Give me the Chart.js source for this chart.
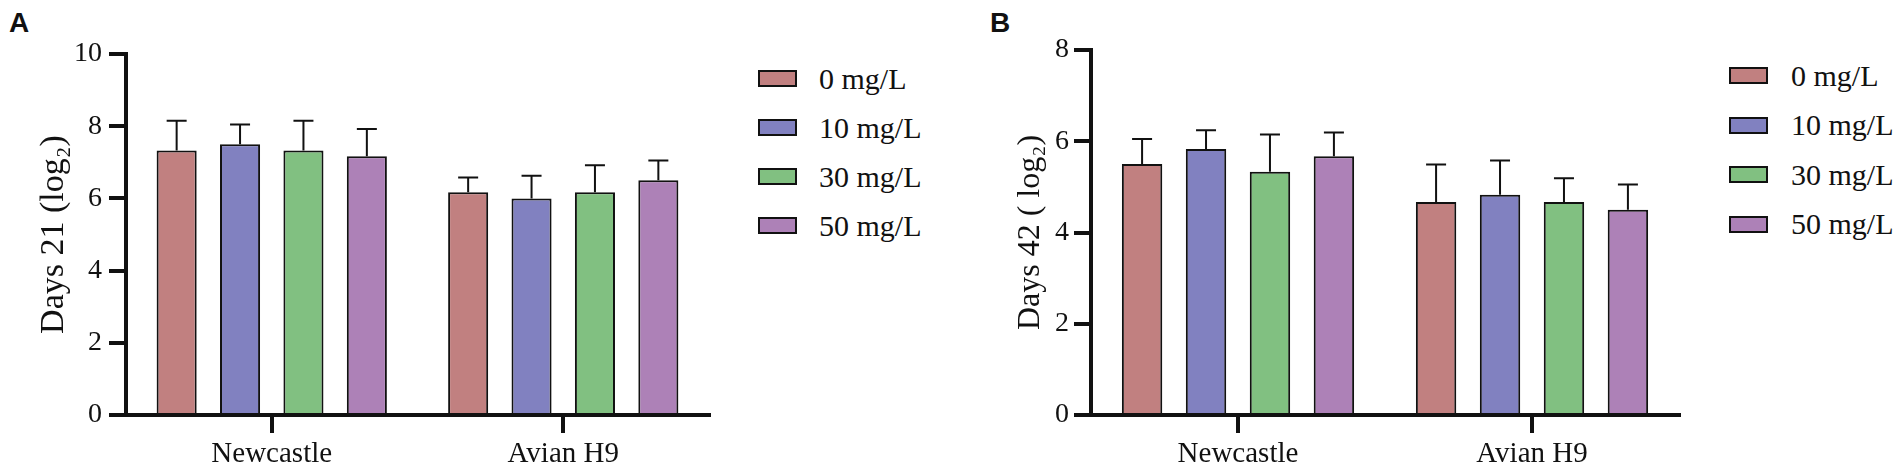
<!DOCTYPE html>
<html>
<head>
<meta charset="utf-8">
<script src="https://cdn.jsdelivr.net/npm/chart.js@4.4.0/dist/chart.umd.min.js"></script>
<style>
  html, body { margin: 0; padding: 0; background: #fff; }
  body { width: 1902px; height: 469px; position: relative; overflow: hidden; color: #111;
         font-family: 'Liberation Serif', 'Times New Roman', serif; }
  .letter { position: absolute; font-family: 'Liberation Sans', Arial, sans-serif; font-weight: bold;
            font-size: 28px; line-height: 28px; }
  .chart-box { position: absolute; top: 0; height: 469px; }
  .legend-item { position: absolute; display: flex; align-items: center; height: 18px; white-space: nowrap; }
  .swatch { box-sizing: border-box; width: 39px; height: 17px; border: 2px solid #111; }
  .legend-text { font-size: 30px; line-height: 18px; }
</style>
</head>
<body>
<div class="letter" style="left:9px; top:9px;">A</div>
<div class="letter" style="left:990px; top:9px;">B</div>

<div class="chart-box" style="left:0; width:720px;"><canvas id="chartA"></canvas></div>
<div class="chart-box" style="left:960px; width:730px;"><canvas id="chartB"></canvas></div>
<div id="legendA"></div>
<div id="legendB"></div>

<script>
// categorias y series
var categories = ['Newcastle', 'Avian H9'];
var doseLabels = ['0 mg/L', '10 mg/L', '30 mg/L', '50 mg/L'];
var doseColors = ['#C18080', '#8181C0', '#81C081', '#AD81B7'];

// Dia 21 (log2), media y desviacion
var day21_0mg = [7.33, 6.17];
var day21_10mg = [7.50, 6.00];
var day21_30mg = [7.33, 6.17];
var day21_50mg = [7.17, 6.50];
var day21_0mg_sd = [0.82, 0.41];
var day21_10mg_sd = [0.55, 0.63];
var day21_30mg_sd = [0.82, 0.75];
var day21_50mg_sd = [0.75, 0.55];

// Dia 42 (log2)
var day42_0mg = [5.50, 4.67];
var day42_10mg = [5.83, 4.83];
var day42_30mg = [5.33, 4.67];
var day42_50mg = [5.67, 4.50];
var day42_0mg_sd = [0.55, 0.82];
var day42_10mg_sd = [0.41, 0.75];
var day42_30mg_sd = [0.82, 0.52];
var day42_50mg_sd = [0.52, 0.55];

var yMaxA = 10, yMaxB = 8, yStep = 2;

var serif = "'Liberation Serif', 'Times New Roman', serif";

// barras de error (solo hacia arriba)
var errorBarPlugin = {
    id: 'errorBars',
    afterDatasetsDraw: function (chart) {
        var ctx = chart.ctx;
        var yScale = chart.scales.y;
        ctx.save();
        ctx.strokeStyle = '#111';
        ctx.lineWidth = 2;
        chart.data.datasets.forEach(function (ds, i) {
            var meta = chart.getDatasetMeta(i);
            meta.data.forEach(function (bar, j) {
                var top = yScale.getPixelForValue(ds.data[j] + ds.errors[j]);
                ctx.beginPath();
                ctx.moveTo(bar.x, bar.y);
                ctx.lineTo(bar.x, top);
                ctx.moveTo(bar.x - 10, top);
                ctx.lineTo(bar.x + 10, top);
                ctx.stroke();
            });
        });
        ctx.restore();
    }
};

function buildDatasets(means, sds) {
    return means.map(function (m, i) {
        return {
            label: doseLabels[i],
            data: m,
            errors: sds[i],
            backgroundColor: doseColors[i],
            borderColor: '#111',
            borderWidth: 2,
            borderSkipped: 'start',
            barPercentage: 0.632,
            categoryPercentage: 0.87
        };
    });
}

function makeChart(id, means, sds, yMax, title, cfg) {
    var ctx = document.getElementById(id).getContext('2d');
    return new Chart(ctx, {
        type: 'bar',
        data: { labels: categories, datasets: buildDatasets(means, sds) },
        plugins: [errorBarPlugin],
        options: {
            responsive: true,
            maintainAspectRatio: false,
            animation: false,
            layout: { padding: { top: cfg.top, right: cfg.right, bottom: 0, left: 0 } },
            plugins: { legend: { display: false }, tooltip: { enabled: false } },
            scales: {
                x: {
                    offset: true,
                    grid: { offset: false, drawOnChartArea: false, drawTicks: true, tickLength: 18, lineWidth: 4, color: '#111' },
                    border: { display: true, width: 4, color: '#111' },
                    ticks: { color: '#111', padding: 4, font: { family: serif, size: 29 } },
                    afterFit: function (s) { s.height = 54; }
                },
                y: {
                    min: 0,
                    max: yMax,
                    ticks: { stepSize: yStep, color: '#111', padding: cfg.tickPad, font: { family: serif, size: 28 } },
                    grid: { drawOnChartArea: false, drawTicks: true, tickLength: 17, lineWidth: 4, color: '#111' },
                    border: { display: true, width: 4, color: '#111' },
                    title: {
                        display: true,
                        text: title,
                        color: '#111',
                        padding: { top: cfg.titlePad, bottom: 0 },
                        font: { family: serif, size: cfg.titleSize, lineHeight: 1.2 }
                    },
                    afterFit: function (s) { s.width = cfg.yWidth; }
                }
            }
        }
    });
}

function buildLegend(id, left, firstCenter, spacing, gap) {
    var box = document.getElementById(id);
    doseLabels.forEach(function (lab, i) {
        var item = document.createElement('div');
        item.className = 'legend-item';
        item.style.left = left + 'px';
        item.style.top = (firstCenter + i * spacing - 9) + 'px';
        var sw = document.createElement('div');
        sw.className = 'swatch';
        sw.style.background = doseColors[i];
        sw.style.marginRight = gap + 'px';
        var tx = document.createElement('span');
        tx.className = 'legend-text';
        tx.textContent = lab;
        item.appendChild(sw);
        item.appendChild(tx);
        box.appendChild(item);
    });
}

makeChart('chartA',
    [day21_0mg, day21_10mg, day21_30mg, day21_50mg],
    [day21_0mg_sd, day21_10mg_sd, day21_30mg_sd, day21_50mg_sd],
    yMaxA, 'Days 21 (log\u2082)',
    { top: 54, right: 11, yWidth: 126, tickPad: 7, titlePad: 34, titleSize: 34 });

makeChart('chartB',
    [day42_0mg, day42_10mg, day42_30mg, day42_50mg],
    [day42_0mg_sd, day42_10mg_sd, day42_30mg_sd, day42_50mg_sd],
    yMaxB, 'Days 42 ( log\u2082)',
    { top: 50, right: 11, yWidth: 131, tickPad: 5, titlePad: 51, titleSize: 32 });

buildLegend('legendA', 758, 78.5, 49, 22);
buildLegend('legendB', 1729, 75.5, 49.5, 23);
</script>
</body>
</html>
